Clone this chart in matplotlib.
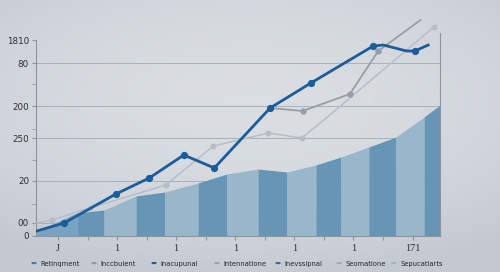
import numpy as np
import matplotlib
matplotlib.use('Agg')
import matplotlib.pyplot as plt

# area strips (edges and height of top at each edge)
strip_x = [-0.72, 0.64, 1.56, 2.64, 3.62, 4.74, 5.72, 6.77, 7.75, 8.73, 9.58, 10.52, 11.44, 12.39, 12.93]
strip_top = [5, 23, 26, 40, 44, 53, 62, 67, 64, 71, 79, 89, 99, 119, 131]

# main blue series
blue_x = [-0.72, 0.21, 1.96, 3.09, 4.26, 5.29, 7.18, 8.56, 10.67, 11.01, 11.80, 12.08, 12.53]
blue_y = [5, 13, 42, 58, 81, 68, 128, 153, 190, 191, 185, 185, 191]
blue_marks = [1, 2, 3, 4, 5, 6, 7, 8, 11]

# medium grey series
grey_x = [7.18, 8.28, 9.88, 10.84, 12.27]
grey_y = [128, 125, 142, 185, 216]

# light grey series
light_x = [-0.72, -0.21, 1.08, 3.65, 5.26, 7.12, 8.25, 9.2, 12.72]
light_y = [13, 16, 28, 51, 90, 103, 98, 121, 209]
light_marks = [1, 2, 3, 4, 5, 6, 8]

ytick_pos = [0, 13, 55, 98, 130, 173, 196]
ytick_lab = ['0', '00', '20', '250', '200', '80', '1810']
yminor = [32, 76, 107, 152]
xtick_lab = ['J', '', '1', '', '1', '', '1', '', '1', '', '1', '', '171']

legend_names = ['Retinqment', 'Inccbulent', 'Inacupunal', 'Intennatione',
                'Inevssipnal', 'Seomatione', 'Sepucatiarts']
legend_colors = ['#3d7bab', '#8e969e', '#1f5b98', '#99a1a9', '#2d6ea6', '#a3abb3', '#9db6c7']

fig = plt.figure(figsize=(5, 2.72), dpi=100)

# soft vignette background
bg = fig.add_axes([0, 0, 1, 1], zorder=-5)
yy, xx = np.mgrid[-1:1:272j, -1:1:500j]
r = np.clip(np.sqrt((xx * 0.85) ** 2 + (yy * 1.0 + 0.25) ** 2), 0, 1.3) / 1.3
center = np.array([0.855, 0.871, 0.89])
edge = np.array([0.77, 0.79, 0.82])
img = center[None, None, :] * (1 - r[..., None] ** 2) + edge[None, None, :] * r[..., None] ** 2
bg.imshow(img, aspect='auto')
bg.axis('off')

ax = fig.add_axes([0.072, 0.1324, 0.808, 0.794])
ax.set_facecolor('none')

for i in range(len(strip_x) - 1):
    if i == 0:
        c = '#79a2c0'
    elif i % 2 == 1:
        c = '#6695b6'
    else:
        c = '#98b7cb'
    ax.fill_between(strip_x[i:i + 2], strip_top[i:i + 2], 0, color=c, lw=0, zorder=1)

ax.plot(light_x, light_y, color='#b5bec7', lw=1.1, marker='o', ms=3.3,
        markevery=light_marks, zorder=3, clip_on=False)
ax.plot(grey_x, grey_y, color='#979ea6', lw=1.3, marker='o', ms=3.6,
        markevery=[1, 2, 3], zorder=3, clip_on=False)
ax.plot(blue_x, blue_y, color='#1c5c9b', lw=2.0, marker='o', ms=4.2,
        markevery=blue_marks, zorder=4)

ax.set_xlim(-0.745, 12.93)
ax.set_ylim(0, 216)

for y in ytick_pos[1:-1]:
    ax.axhline(y, color='#a9b0b7', lw=0.7, zorder=0.5)

ax.set_yticks(ytick_pos)
ax.set_yticklabels(ytick_lab, fontsize=6.3, color='#2b2f33')
ax.set_yticks(yminor, minor=True)
ax.tick_params(axis='y', which='both', length=3, color='#8d959c', pad=2)

ax.set_xticks(range(13))
ax.set_xticklabels(xtick_lab, fontsize=7.5, family='Liberation Serif', color='#2b2f33')
ax.tick_params(axis='x', length=3, color='#8d959c', pad=3)

ax.spines['top'].set_visible(False)
ax.spines['left'].set_bounds(0, 196)
ax.spines['right'].set_bounds(0, 203)
for s in ['left', 'right', 'bottom']:
    ax.spines[s].set_color('#8d959c')
    ax.spines[s].set_linewidth(0.8)

# legend row
legend_x = [0.066, 0.186, 0.306, 0.432, 0.554, 0.676, 0.786]
for i in range(len(legend_names)):
    fig.text(legend_x[i], 0.03, '\u25ac', color=legend_colors[i], fontsize=4.5,
             va='center', ha='center')
    fig.text(legend_x[i] + 0.015, 0.03, legend_names[i], fontsize=4.9, color='#22272c',
             va='center', ha='left')

plt.savefig('out.png', dpi=100)
